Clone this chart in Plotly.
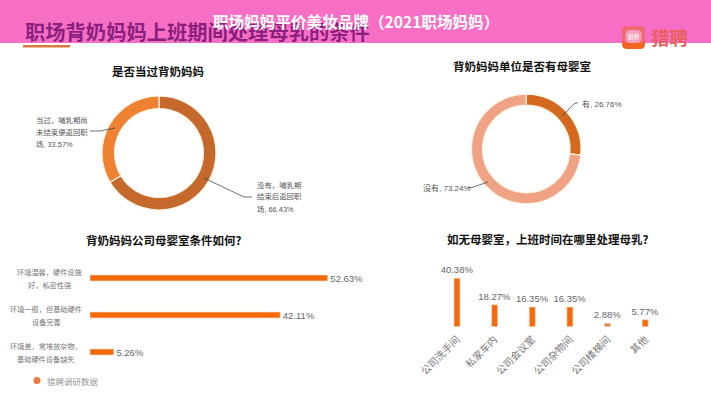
import plotly.graph_objects as go

W, H = 711, 400
CJK = "Noto Sans CJK SC"
SANS = "Liberation Sans, Noto Sans CJK SC"

q1_labels = ["没有\uff0c哺乳期结束后返回职场", "当过\uff0c哺乳期尚未结束便返回职场"]
q1_values = [66.43, 33.57]
q2_labels = ["有", "没有"]
q2_values = [26.76, 73.24]
q3_cats = ["环境温馨\uff0c硬件设施<br>好\uff0c私密性强", "环境一般\uff0c但基础硬件<br>设备完善", "环境差\uff0c常堆放杂物\uff0c<br>基础硬件设备缺失"]
q3_values = [52.63, 42.11, 5.26]
q4_cats = ["公司洗手间", "私家车内", "公司会议室", "公司杂物间", "公司楼梯间", "其他"]
q4_values = [40.38, 18.27, 16.35, 16.35, 2.88, 5.77]


def px(x):
    return x / W


def py(y):
    return 1 - y / H


fig = go.Figure()

fig.add_trace(go.Pie(
    labels=q1_labels, values=q1_values, sort=False, direction="clockwise", rotation=0,
    hole=0.78, textinfo="none", showlegend=False,
    marker=dict(colors=["#C4692B", "#EF8232"], line=dict(color="#FFF3E4", width=1.2)),
    domain=dict(x=[px(102), px(216)], y=[py(210), py(96)]),
))
fig.add_trace(go.Pie(
    labels=q2_labels, values=q2_values, sort=False, direction="clockwise", rotation=0,
    hole=0.80, textinfo="none", showlegend=False,
    marker=dict(colors=["#D2691F", "#EFA384"], line=dict(color="#FFF3E4", width=1.2)),
    domain=dict(x=[px(471.5), px(581)], y=[py(204), py(94)]),
))

fig.add_trace(go.Bar(
    y=q3_cats, x=q3_values, orientation="h", width=0.16, xaxis="x", yaxis="y",
    marker=dict(color="#F66A0E", line=dict(color="#FBD9BC", width=0.6)),
    text=[f"\u00a0{v:.2f}%" for v in q3_values], textposition="outside", cliponaxis=False, constraintext="none",
    textfont=dict(family=SANS, size=9.5, color="#666666"), showlegend=False,
))
fig.add_trace(go.Bar(
    x=q4_cats, y=q4_values, width=0.16, xaxis="x2", yaxis="y2",
    marker=dict(color=["#F66A0E", "#F66A0E", "#F66A0E", "#F66A0E", "#D9813F", "#F66A0E"],
                line=dict(color="#FBD9BC", width=0.6)),
    text=[f"{v:.2f}%" for v in q4_values], textposition="outside", cliponaxis=False, constraintext="none",
    textfont=dict(family=SANS, size=9.5, color="#666666"), showlegend=False,
))

ann = []


def note(x, y, text, size=8, color="#555555", bold=False, align="center", xanchor="center", family=CJK, **kw):
    t = f"<b>{text}</b>" if bold else text
    ann.append(dict(x=px(x), y=py(y), xref="paper", yref="paper", text=t, showarrow=False,
                    xanchor=xanchor, yanchor="middle", align=align,
                    font=dict(family=family, size=size, color=color), **kw))


note(23, 31, "职场背奶妈妈上班期间处理母乳的条件", size=20.3, color="#8A1F7E", bold=True, xanchor="left")
note(669, 37, "猎聘", size=18.5, color="#E8615F", bold=True)
note(633.5, 36.5, "猎聘", size=5.5, color="#FFFFFF")

note(158, 71, "是否当过背奶妈妈", size=11.5, color="#111111", bold=True)
note(522, 66, "背奶妈妈单位是否有母婴室", size=11.5, color="#111111", bold=True)
note(163, 240, "背奶妈妈公司母婴室条件如何?", size=11.5, color="#111111", bold=True)
note(547, 239, "如无母婴室\uff0c上班时间在哪里处理母乳?", size=11.5, color="#111111", bold=True)

for i, line in enumerate(["当过\uff0c哺乳期尚", "未结束便返回职", "场, 33.57%"]):
    note(34, 120 + 12 * i, line, size=7.4, align="left", xanchor="left", family=SANS)
for i, line in enumerate(["没有\uff0c哺乳期", "结束后返回职", "场, 66.43%"]):
    note(255, 185 + 12 * i, line, size=7.4, align="left", xanchor="left", family=SANS)
note(580, 104, "有, 26.76%", size=8, align="left", xanchor="left", family=SANS)
note(421, 187.5, "没有, 73.24%", size=8, align="left", xanchor="left", family=SANS)

# category labels of the left bar chart, centred as in the reference, 13 px line pitch
for cat, cx in zip(q3_cats, [49, 46, 46]):
    for line, shift in zip(cat.split("<br>"), [6.5, -6.5]):
        ann.append(dict(x=px(cx), y=cat, xref="paper", yref="y", text=line, showarrow=False,
                        xanchor="center", yanchor="middle", align="center", yshift=shift,
                        font=dict(family=CJK, size=7.2, color="#777777")))

note(45, 381, "猎聘调研数据", size=8.5, color="#999999", align="left", xanchor="left")
note(356, 21, "职场妈妈平价美妆品牌\uff082021职场妈妈\uff09", size=15.6, color="#FFFFFF", bold=True)


def rounded(x0, y0, x1, y1, r):
    a, b, c, d = px(x0), px(x1), py(y0), py(y1)
    rx, ry = r / W, r / H
    return (f"M {a + rx} {c} L {b - rx} {c} Q {b} {c} {b} {c - ry} L {b} {d + ry} Q {b} {d} {b - rx} {d} "
            f"L {a + rx} {d} Q {a} {d} {a} {d + ry} L {a} {c - ry} Q {a} {c} {a + rx} {c} Z")


shapes = [
    dict(type="rect", xref="paper", yref="paper", x0=0, x1=1, y0=py(43), y1=1, layer="below",
         fillcolor="#F76FC5", line_width=0),
    dict(type="rect", xref="paper", yref="paper", x0=px(23), x1=px(70), y0=py(47.5), y1=py(45), layer="below",
         fillcolor="#D9793A", line_width=0),
    dict(type="path", xref="paper", yref="paper", path=rounded(622, 26, 645, 49, 5), layer="below",
         fillcolor="#F2651E", line_width=0),
    dict(type="path", xref="paper", yref="paper", path=rounded(622, 26, 645, 43, 5), layer="below",
         fillcolor="#EE6A75", line_width=0),
    dict(type="path", xref="paper", yref="paper", path=rounded(625.5, 30, 641.5, 43, 5), layer="below",
         fillcolor="#F4A0BC", line_width=0),
    dict(type="circle", xref="paper", yref="paper", x0=px(33.5), x1=px(40.5), y0=py(384), y1=py(377),
         fillcolor="#EF7A3E", line_width=0),
]


def leader(pts):
    for (a, b), (c, d) in zip(pts, pts[1:]):
        shapes.append(dict(type="line", xref="paper", yref="paper", x0=px(a), y0=py(b), x1=px(c), y1=py(d),
                           line=dict(color="#333333", width=0.7)))


leader([(90, 131), (100, 131), (115, 128)])
leader([(204, 178), (244, 197), (252, 197)])
leader([(562, 116), (575, 103), (578, 103)])
leader([(468, 187.5), (472, 187.5), (488, 182)])

fig.update_layout(
    template="none",
    width=W, height=H, margin=dict(l=0, r=0, t=0, b=0, pad=0), autosize=False,
    paper_bgcolor="white", plot_bgcolor="white",
    annotations=ann, shapes=shapes, bargap=0.84,
    xaxis=dict(domain=[px(90), px(361)], range=[0, 60], visible=False, automargin=False),
    yaxis=dict(domain=[py(370.5), py(259.5)], autorange=False, range=[2.5, -0.5], automargin=False,
               type="category", categoryorder="array", categoryarray=q3_cats, showticklabels=False,
               showline=False, showgrid=False, zeroline=False, ticks=""),
    xaxis2=dict(domain=[px(438.2), px(664)], anchor="y2", type="category", categoryorder="array", automargin=False,
                categoryarray=q4_cats, tickangle=-45, showline=False, showgrid=False, ticks="", ticklen=0,
                ticklabelstandoff=4, tickfont=dict(family=CJK, size=10, color="#777777")),
    yaxis2=dict(domain=[py(326.7), py(266.7)], anchor="x2", range=[0, 50], visible=False, automargin=False),
)

fig.write_html("out.html", config=dict(displayModeBar=False),
               post_script="document.body.style.margin='0';document.documentElement.style.overflow='hidden';")
